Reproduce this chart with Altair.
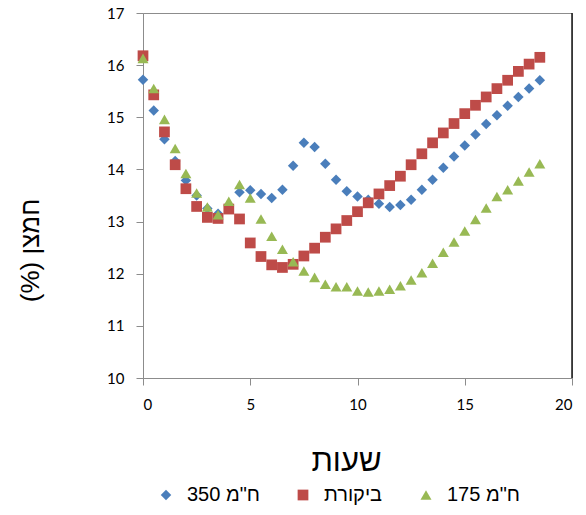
import altair as alt
import pandas as pd

hours = [0, 0.5, 1, 1.5, 2, 2.5, 3, 3.5, 4, 4.5,
         5, 5.5, 6, 6.5, 7, 7.5, 8, 8.5, 9, 9.5,
         10, 10.5, 11, 11.5, 12, 12.5, 13, 13.5, 14, 14.5,
         15, 15.5, 16, 16.5, 17, 17.5, 18, 18.5]

s350 = [15.72, 15.13, 14.58, 14.16, 13.79, 13.50, 13.25, 13.15, 13.30, 13.56,
        13.60, 13.53, 13.45, 13.61, 14.07, 14.51, 14.43, 14.11, 13.80, 13.58,
        13.48, 13.42, 13.34, 13.28, 13.32, 13.42, 13.61, 13.80, 14.03, 14.25,
        14.46, 14.67, 14.87, 15.04, 15.22, 15.39, 15.55, 15.71]

control = [16.18, 15.43, 14.72, 14.09, 13.63, 13.29, 13.08, 13.06, 13.24, 13.05,
           12.59, 12.33, 12.17, 12.12, 12.18, 12.34, 12.49, 12.70, 12.86, 13.02,
           13.19, 13.36, 13.53, 13.69, 13.87, 14.09, 14.30, 14.51, 14.70, 14.88,
           15.07, 15.23, 15.39, 15.55, 15.71, 15.88, 16.02, 16.15]

s175 = [16.13, 15.55, 14.96, 14.40, 13.92, 13.55, 13.28, 13.13, 13.39, 13.71,
        13.45, 13.05, 12.72, 12.47, 12.23, 12.05, 11.93, 11.80, 11.75, 11.75,
        11.67, 11.65, 11.67, 11.70, 11.77, 11.88, 12.02, 12.20, 12.41, 12.61,
        12.82, 13.04, 13.26, 13.48, 13.61, 13.78, 13.95, 14.11]

# LTR embedding keeps the number on the left of the Hebrew unit, as in the picture
names = ['\u202a350 ח"מ\u202c', 'ביקורת', '\u202a175 ח"מ\u202c']
colors = ["#4A7EBB", "#BE4B48", "#98B954"]
shapes = ["diamond", "square", "triangle-up"]
sizes = [110, 121, 130]

x_ticks = [0, 5, 10, 15, 20]
y_ticks = [10, 11, 12, 13, 14, 15, 16, 17]

rows = []
for name, vals in zip(names, [s350, control, s175]):
    for h, v in zip(hours, vals):
        rows.append({"h": h, "v": v, "s": name})
df = pd.DataFrame(rows)

points = alt.Chart(df).mark_point(filled=True, opacity=1, strokeWidth=0).encode(
    x=alt.X("h:Q",
            scale=alt.Scale(domain=[0, 20], nice=False),
            axis=alt.Axis(values=x_ticks, title="שעות",
                          titleX=203, titleY=92, titleAlign="center",
                          titleBaseline="alphabetic", titleFontSize=31,
                          labelPadding=12)),
    y=alt.Y("v:Q",
            scale=alt.Scale(domain=[10, 17], nice=False, zero=False),
            axis=alt.Axis(values=y_ticks, title="חמצן (%)\u200f",
                          titleAngle=270, titleX=-113, titleY=237,
                          titleAlign="center", titleBaseline="middle",
                          titleFontSize=26, labelPadding=12)),
    color=alt.Color("s:N", scale=alt.Scale(domain=names, range=colors),
                    legend=alt.Legend(title=None)),
    shape=alt.Shape("s:N", scale=alt.Scale(domain=names, range=shapes),
                    legend=alt.Legend(title=None)),
    size=alt.Size("s:N", scale=alt.Scale(domain=names, range=sizes), legend=None),
)

edge = alt.Chart(pd.DataFrame({"x": [20]})).mark_rule(
    color="#1a1a1a", strokeWidth=1.5).encode(x="x:Q")

chart = alt.layer(points, edge).properties(
    width=429, height=365,
    autosize=alt.AutoSizeParams(type="none"),
    padding={"left": 143, "top": 13, "right": 14, "bottom": 137},
).configure_view(
    stroke="#8c8c8c", strokeWidth=1
).configure_axis(
    grid=False,
    domainColor="#8c8c8c", tickColor="#8c8c8c", tickSize=7,
    labelFont="Lato", labelFontSize=15, labelColor="#000000",
    titleFont="Liberation Sans", titleFontWeight="normal", titleColor="#000000",
).configure_legend(
    orient="none", legendX=13, legendY=472, direction="horizontal",
    labelFont="Liberation Sans", labelFontSize=20, labelColor="#000000",
    symbolSize=64, symbolStrokeWidth=0, labelOffset=11, columnPadding=33,
    labelLimit=200,
)

chart.save("out.html", embed_options={"renderer": "svg", "actions": False})
